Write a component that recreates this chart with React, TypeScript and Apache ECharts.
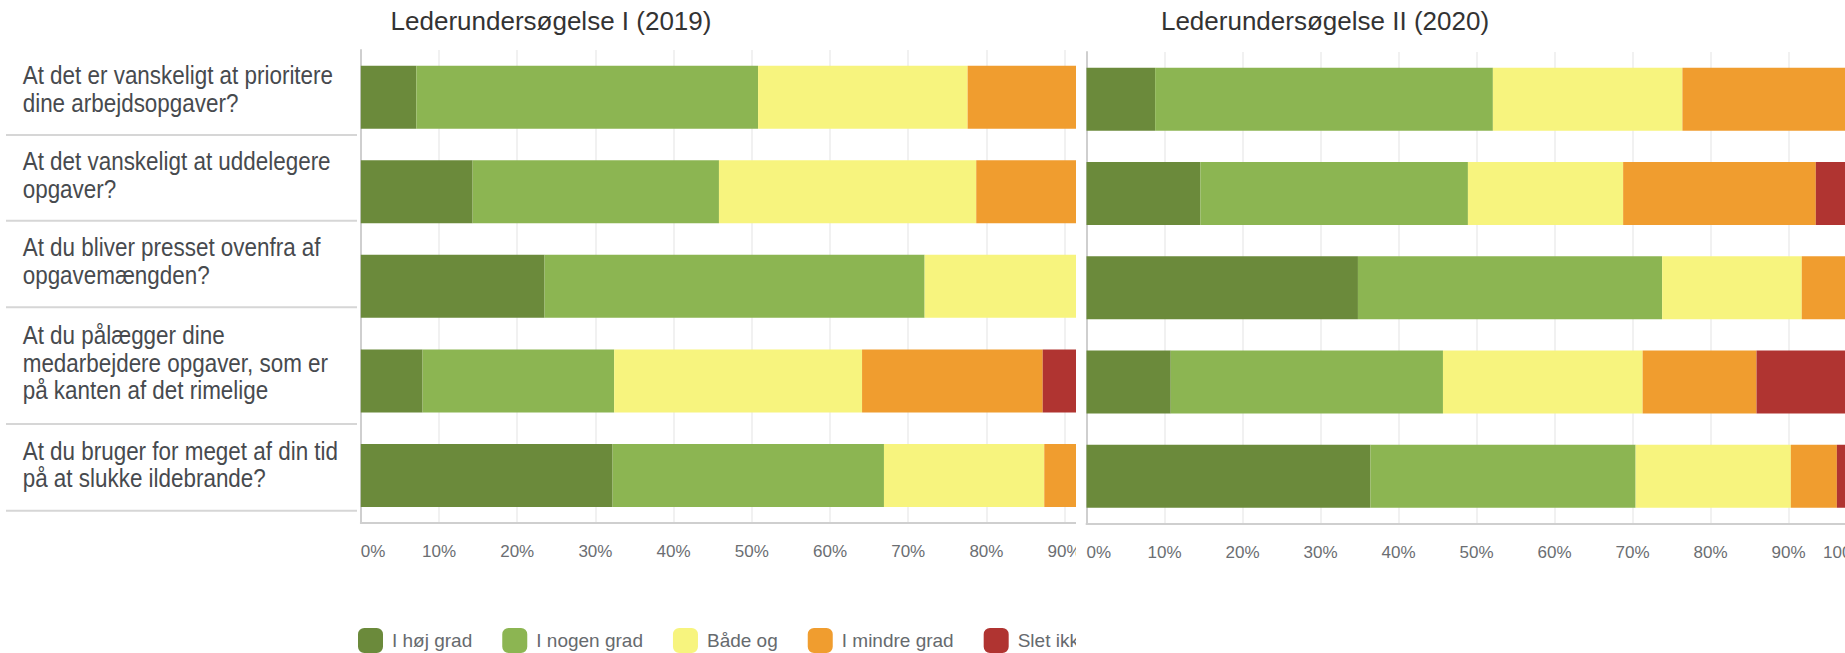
import React, { useEffect, useRef } from "react";
import * as echarts from "echarts";

const categories = [
  "At det er vanskeligt at prioritere\ndine arbejdsopgaver?",
  "At det vanskeligt at uddelegere\nopgaver?",
  "At du bliver presset ovenfra af\nopgavemængden?",
  "At du pålægger dine\nmedarbejdere opgaver, som er\npå kanten af det rimelige",
  "At du bruger for meget af din tid\npå at slukke ildebrande?",
];

const seriesNames = ["I høj grad", "I nogen grad", "Både og", "I mindre grad", "Slet ikke"];
const seriesColors = ["#6B8A3B", "#8CB552", "#F7F47E", "#F09D2F", "#B03431"];

const titles = ["Lederundersøgelse I (2019)", "Lederundersøgelse II (2020)"];

// 2019 (percent)
const hoejGrad2019 = [7.1, 14.3, 23.5, 7.9, 32.2];
const nogenGrad2019 = [43.7, 31.5, 48.6, 24.5, 34.7];
const baadeOg2019 = [26.8, 32.9, 27.9, 31.7, 20.5];
const mindreGrad2019 = [22.4, 21.3, 0, 23.1, 12.6];
const sletIkke2019 = [0, 0, 0, 12.8, 0];

// 2020 (percent)
const hoejGrad2020 = [8.8, 14.6, 34.8, 10.8, 36.4];
const nogenGrad2020 = [43.3, 34.3, 39.0, 34.9, 34.0];
const baadeOg2020 = [24.3, 19.9, 17.9, 25.6, 19.9];
const mindreGrad2020 = [23.6, 24.7, 8.3, 14.6, 5.9];
const sletIkke2020 = [0, 6.5, 0, 14.1, 3.8];

const FONT = "'Liberation Sans', Arial, sans-serif";

function buildSeries(values: number[][]) {
  return seriesNames.map((name, i) => ({
    name,
    type: "bar",
    stack: "total",
    barWidth: 63,
    data: values[i],
    itemStyle: { color: seriesColors[i] },
    emphasis: { disabled: true },
  }));
}

function axes() {
  return {
    xAxis: {
      type: "value",
      min: 0,
      max: 100,
      interval: 10,
      axisLine: { show: true, lineStyle: { color: "#cfcfcf", width: 2 } },
      axisTick: { show: false },
      splitLine: { show: true, lineStyle: { color: "#ececec", width: 1.5 } },
      axisLabel: {
        formatter: "{value}%",
        color: "#6b6e72",
        fontSize: 17,
        fontFamily: FONT,
        margin: 20,
        alignMinLabel: "left",
        alignMaxLabel: "right",
      },
    },
    yAxis: {
      type: "category",
      inverse: true,
      data: categories,
      axisLine: { show: true, lineStyle: { color: "#cfcfcf", width: 2 } },
      axisTick: { show: false },
      axisLabel: { show: false },
      splitLine: { show: false },
    },
  };
}

export default function App() {
  const leftRef = useRef<HTMLDivElement>(null);
  const rightRef = useRef<HTMLDivElement>(null);

  useEffect(() => {
    if (!leftRef.current || !rightRef.current) return;
    const left = echarts.init(leftRef.current, undefined, { renderer: "svg" });
    const right = echarts.init(rightRef.current, undefined, { renderer: "svg" });

    const rowEdges = [48.5, 135, 220.7, 307.3, 424, 510.7];
    const labelEls: any[] = [];
    categories.forEach((c, i) => {
      const cy = (rowEdges[i] + rowEdges[i + 1]) / 2 - 3;
      labelEls.push({
        type: "text",
        x: 22.7,
        y: cy,
        scaleX: 0.863,
        silent: true,
        style: {
          text: c,
          fontSize: 26,
          lineHeight: 27.5,
          fill: "#474a4e",
          fontFamily: FONT,
          verticalAlign: "middle",
          textAlign: "left",
        },
      });
    });
    for (let i = 1; i < rowEdges.length; i++) {
      labelEls.push({
        type: "line",
        silent: true,
        shape: { x1: 6, y1: rowEdges[i], x2: 357, y2: rowEdges[i] },
        style: { stroke: "#d6d6d6", lineWidth: 2 },
      });
    }

    left.setOption({
      animation: false,
      backgroundColor: "#fff",
      grid: { left: 360.8, right: 57.2, top: 50, bottom: 130.3 },
      ...axes(),
      legend: {
        show: true,
        data: seriesNames,
        left: 358,
        top: 628,
        padding: 0,
        itemWidth: 25,
        itemHeight: 25,
        itemGap: 30,
        icon: "roundRect",
        selectedMode: false,
        formatter: "{s|}{t|{name}}",
        textStyle: {
          fontSize: 19,
          color: "#666a6e",
          fontFamily: FONT,
          rich: {
            s: { width: 4, height: 1 },
            t: { fontSize: 19, color: "#666a6e", fontFamily: FONT },
          },
        },
      },
      graphic: [
        {
          type: "text",
          x: 551,
          y: 21,
          silent: true,
          style: {
            text: titles[0],
            fontSize: 26,
            fill: "#333",
            fontFamily: FONT,
            textAlign: "center",
            verticalAlign: "middle",
          },
        },
        ...labelEls,
      ],
      series: buildSeries([hoejGrad2019, nogenGrad2019, baadeOg2019, mindreGrad2019, sletIkke2019]),
    });

    right.setOption({
      animation: false,
      backgroundColor: "#fff",
      grid: { left: 10.5, right: 39.5, top: 52, bottom: 129.5 },
      ...axes(),
      legend: { show: false, data: seriesNames },
      graphic: [
        {
          type: "text",
          x: 249,
          y: 21,
          silent: true,
          style: {
            text: titles[1],
            fontSize: 26,
            fill: "#333",
            fontFamily: FONT,
            textAlign: "center",
            verticalAlign: "middle",
          },
        },
      ],
      series: buildSeries([hoejGrad2020, nogenGrad2020, baadeOg2020, mindreGrad2020, sletIkke2020]),
    });

    return () => {
      left.dispose();
      right.dispose();
    };
  }, []);

  return (
    <div
      style={{
        position: "absolute",
        left: 0,
        top: 0,
        width: 1845,
        height: 653,
        overflow: "hidden",
        background: "#fff",
      }}
    >
      <div style={{ position: "absolute", left: 0, top: 0, width: 1076, height: 653, overflow: "hidden" }}>
        <div ref={leftRef} style={{ width: 1200, height: 653 }} />
      </div>
      <div style={{ position: "absolute", left: 1076, top: 0, width: 769, height: 653, overflow: "hidden" }}>
        <div ref={rightRef} style={{ width: 830, height: 653 }} />
      </div>
    </div>
  );
}
